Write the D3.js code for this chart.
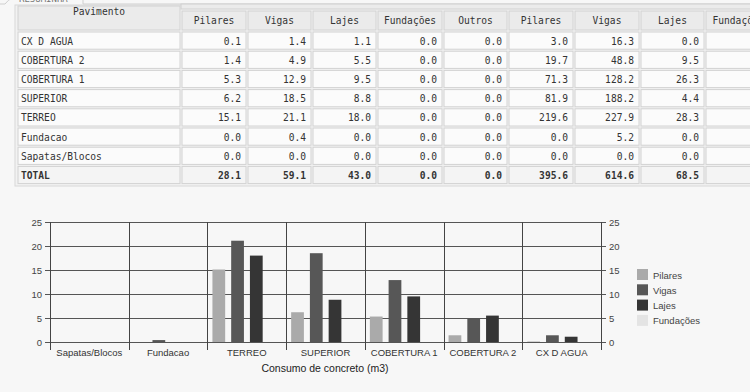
<!DOCTYPE html>
<html>
<head>
<meta charset="utf-8">
<script src="https://cdn.jsdelivr.net/npm/d3@7"></script>
<style>
  body { margin: 0; background: #f7f7f7; }
  svg { display: block; }
</style>
</head>
<body>
<script>
// table data (per pavimento)
var pavimentos = ["CX D AGUA", "COBERTURA 2", "COBERTURA 1", "SUPERIOR", "TERREO", "Fundacao", "Sapatas/Blocos"];
var pilares    = [0.1, 1.4, 5.3, 6.2, 15.1, 0.0, 0.0];
var vigas      = [1.4, 4.9, 12.9, 18.5, 21.1, 0.4, 0.0];
var lajes      = [1.1, 5.5, 9.5, 8.8, 18.0, 0.0, 0.0];
var fundacoes  = [0.0, 0.0, 0.0, 0.0, 0.0, 0.0, 0.0];
var outros     = [0.0, 0.0, 0.0, 0.0, 0.0, 0.0, 0.0];
var pilaresF   = [3.0, 19.7, 71.3, 81.9, 219.6, 0.0, 0.0];
var vigasF     = [16.3, 48.8, 128.2, 188.2, 227.9, 5.2, 0.0];
var lajesF     = [0.0, 9.5, 26.3, 4.4, 28.3, 0.0, 0.0];
var totais     = [28.1, 59.1, 43.0, 0.0, 0.0, 395.6, 614.6, 68.5];

var colunas = ["Pilares", "Vigas", "Lajes", "Fundações", "Outros", "Pilares", "Vigas", "Lajes", "Fundações"];

// chart data
var series = ["Pilares", "Vigas", "Lajes", "Fundações"];
var categorias = pavimentos.slice().reverse();
var yTicks = [0, 5, 10, 15, 20, 25];
var cores = ["#aaaaaa", "#575757", "#353535", "#e4e4e4"];

var W = 750, H = 392;
var svg = d3.select("body").append("svg").attr("width", W).attr("height", H);

// ---------- top tab strip ----------
svg.append("path")
    .attr("d", "M0,4 L5,4 Q8,0 12,-2 L83,-2 L83,4 L750,4")
    .attr("fill", "none").attr("stroke", "#cfcfcf");
svg.append("text").attr("x", 19).attr("y", 2).attr("font-family", "DejaVu Sans Mono")
    .attr("font-size", 9).attr("fill", "#777").text("RESUMINHA");

// ---------- table ----------
var colX = [17, 181, 247, 312, 377, 443, 508, 574, 640, 705, 772];
var rowTop = 31, rowH = 19.2;
var mono = "'DejaVu Sans Mono', 'Liberation Mono', monospace";
var tbl = svg.append("g");

tbl.append("rect").attr("x", 15).attr("y", 5).attr("width", 740).attr("height", 181)
    .attr("fill", "#f2f2f2").attr("stroke", "#d8d8d8");
// group header strip
tbl.append("rect").attr("x", 181).attr("y", 4).attr("width", 580).attr("height", 5)
    .attr("fill", "#ebebeb").attr("stroke", "#d0d0d0");

function cell(x0, x1, y0, y1, fill) {
  tbl.append("rect").attr("x", x0 + 1).attr("y", y0 + 1)
      .attr("width", x1 - x0 - 2).attr("height", y1 - y0 - 2)
      .attr("fill", fill).attr("stroke", "#d2d2d2");
}

// header cells
cell(colX[0], colX[1], 5, 31, "#ebebeb");
tbl.append("text").attr("x", (colX[0] + colX[1]) / 2).attr("y", 15)
    .attr("text-anchor", "middle").attr("font-family", mono).attr("font-size", 9.6)
    .attr("fill", "#333").text("Pavimento");
colunas.forEach(function(c, i) {
  cell(colX[i + 1], colX[i + 2], 10, 31, "#ebebeb");
  tbl.append("text").attr("x", (colX[i + 1] + colX[i + 2]) / 2).attr("y", 24)
      .attr("text-anchor", "middle").attr("font-family", mono).attr("font-size", 9.6)
      .attr("fill", "#333").text(c);
});

var linhas = pavimentos.map(function(p, i) {
  return [p, pilares[i], vigas[i], lajes[i], fundacoes[i], outros[i], pilaresF[i], vigasF[i], lajesF[i], null];
});
linhas.push(["TOTAL"].concat(totais).concat([null]));

linhas.forEach(function(row, r) {
  var y0 = rowTop + r * rowH, y1 = y0 + rowH;
  var bold = r === linhas.length - 1;
  row.forEach(function(v, c) {
    cell(colX[c], colX[c + 1], y0, y1, bold ? "#f4f4f4" : "#fbfbfb");
    if (v === null) return;
    var t = tbl.append("text").attr("y", y0 + 13.5)
        .attr("font-family", mono).attr("font-size", 9.6)
        .attr("font-weight", bold ? "bold" : "normal").attr("fill", "#333");
    if (c === 0) t.attr("x", colX[0] + 4).text(v);
    else t.attr("x", colX[c + 1] - 6).attr("text-anchor", "end").text(d3.format(".1f")(v));
  });
});

// ---------- chart ----------
var x = d3.scaleBand().domain(categorias).range([50, 601]);
var xs = d3.scaleBand().domain(series).range([5, 74]).paddingInner(0.32);
var y = d3.scaleLinear().domain([0, 25]).range([342, 222]);
var valores = { "Pilares": pilares, "Vigas": vigas, "Lajes": lajes, "Fundações": fundacoes };

var chart = svg.append("g");
var sans = "'Liberation Sans', Arial, sans-serif";

// horizontal grid + outer ticks
chart.selectAll(".grid").data(yTicks).enter().append("line")
    .attr("x1", 45).attr("x2", 606)
    .attr("y1", function(d) { return y(d); }).attr("y2", function(d) { return y(d); })
    .attr("stroke", "#555").attr("stroke-width", 1).attr("shape-rendering", "crispEdges");

// vertical separators
var seps = categorias.map(function(c) { return x(c); }).concat([x.range()[1]]);
chart.selectAll(".sep").data(seps).enter().append("line")
    .attr("x1", function(d) { return Math.round(d) + 0.5; }).attr("x2", function(d) { return Math.round(d) + 0.5; })
    .attr("y1", 222).attr("y2", 350)
    .attr("stroke", "#444").attr("stroke-width", 1);

// bars
series.forEach(function(s, si) {
  chart.selectAll(".bar" + si).data(categorias).enter().append("rect")
      .attr("x", function(d) { return x(d) + xs(s); })
      .attr("width", xs.bandwidth())
      .attr("y", function(d) { return y(valores[s][pavimentos.indexOf(d)]); })
      .attr("height", function(d) { return y(0) - y(valores[s][pavimentos.indexOf(d)]); })
      .attr("fill", cores[si]);
});

// y labels left / right
chart.selectAll(".yl").data(yTicks).enter().append("text")
    .attr("x", 42).attr("y", function(d) { return y(d) + 3.5; })
    .attr("text-anchor", "end").attr("font-family", sans).attr("font-size", 9.5).attr("fill", "#444")
    .text(function(d) { return d; });
chart.selectAll(".yr").data(yTicks).enter().append("text")
    .attr("x", 609).attr("y", function(d) { return y(d) + 3.5; })
    .attr("font-family", sans).attr("font-size", 9.5).attr("fill", "#444")
    .text(function(d) { return d; });

// category labels
chart.selectAll(".xl").data(categorias).enter().append("text")
    .attr("x", function(d) { return x(d) + x.bandwidth() / 2; }).attr("y", 356)
    .attr("text-anchor", "middle").attr("font-family", sans).attr("font-size", 9.5).attr("fill", "#333")
    .text(function(d) { return d; });

chart.append("text").attr("x", 325).attr("y", 372).attr("text-anchor", "middle")
    .attr("font-family", sans).attr("font-size", 10.5).attr("fill", "#222")
    .text("Consumo de concreto (m3)");

// legend
var leg = chart.selectAll(".leg").data(series).enter().append("g")
    .attr("transform", function(d, i) { return "translate(637," + (269 + i * 15.3) + ")"; });
leg.append("rect").attr("width", 11).attr("height", 11)
    .attr("fill", function(d, i) { return cores[i]; });
leg.append("text").attr("x", 16).attr("y", 9.5).attr("font-family", sans).attr("font-size", 9.5)
    .attr("fill", "#444").text(function(d) { return d; });
</script>
</body>
</html>
